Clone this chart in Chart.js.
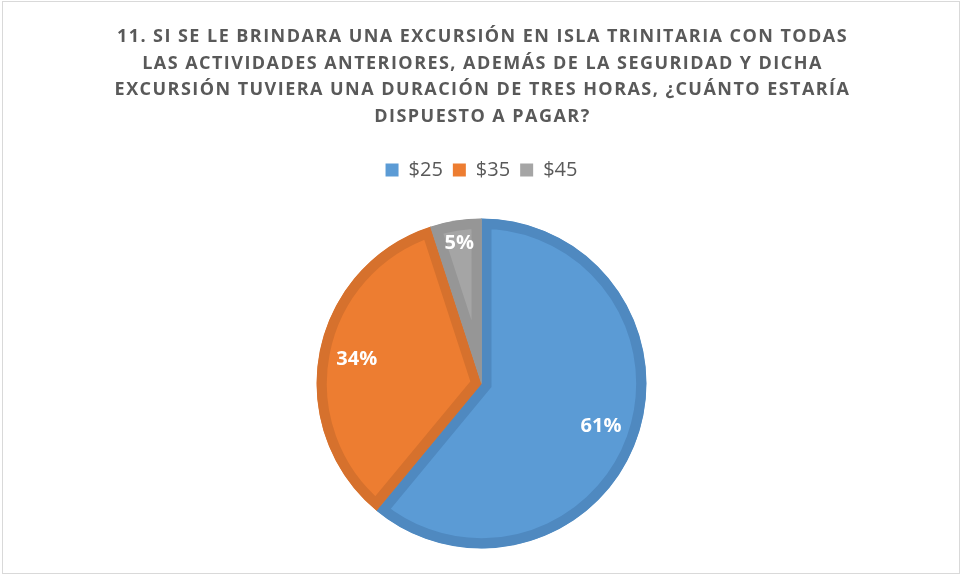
<!DOCTYPE html>
<html>
<head>
<meta charset="utf-8">
<script src="https://cdn.jsdelivr.net/npm/chart.js@4/dist/chart.umd.min.js"></script>
<style>
  html, body { margin: 0; padding: 0; background: #fff; }
  #wrap {
    position: absolute; left: 2px; top: 1px;
    width: 958px; height: 573px;
    border: 1px solid #d9d9d9;
    box-sizing: border-box;
  }
  #myChart { position: absolute; left: -3px; top: -2px; }
</style>
</head>
<body>
<div id="wrap"><canvas id="myChart" width="963" height="577"></canvas></div>
<script>
const titleLines = [
    '11. SI SE LE BRINDARA UNA EXCURSIÓN EN ISLA TRINITARIA CON TODAS',
    'LAS ACTIVIDADES ANTERIORES, ADEMÁS DE LA SEGURIDAD Y DICHA',
    'EXCURSIÓN TUVIERA UNA DURACIÓN DE TRES HORAS, ¿CUÁNTO ESTARÍA',
    'DISPUESTO A PAGAR?'
];
const categories = ['$25', '$35', '$45'];
const percents = [61, 34, 5];
const fillColors = ['#5b9bd5', '#ed7d31', '#a5a5a5'];
const edgeColors = ['#4f89c0', '#d6712d', '#969696'];

// title with letter spacing, drawn by hand
const titleDraw = {
    id: 'titleDraw',
    afterDraw(chart) {
        const ctx = chart.ctx;
        ctx.save();
        ctx.font = 'bold 18px "Open Sans"';
        ctx.fillStyle = '#595959';
        ctx.textAlign = 'center';
        ctx.textBaseline = 'middle';
        ctx.letterSpacing = '1.45px';
        titleLines.forEach(function(line, i) {
            ctx.fillText(line, chart.width / 2 + 1, 37 + i * 26.5);
        });
        ctx.restore();
    }
};

// percent labels inside the slices
const sliceLabels = {
    id: 'sliceLabels',
    afterDatasetsDraw(chart) {
        const ctx = chart.ctx;
        const meta = chart.getDatasetMeta(0);
        ctx.save();
        ctx.font = 'bold 20px "Open Sans"';
        ctx.fillStyle = '#ffffff';
        ctx.textAlign = 'center';
        ctx.textBaseline = 'middle';
        meta.data.forEach(function(arc, i) {
            const p = arc.getProps(['x', 'y', 'startAngle', 'endAngle', 'outerRadius']);
            const mid = (p.startAngle + p.endAngle) / 2;
            const r = p.outerRadius * (percents[i] < 10 ? 0.86 : 0.77);
            ctx.fillText(percents[i] + '%', p.x + Math.cos(mid) * r, p.y + Math.sin(mid) * r);
        });
        ctx.restore();
    }
};

const chartSettings = {
    type: 'pie',
    data: {
        labels: categories,
        datasets: [
            {
                data: percents,
                backgroundColor: fillColors,
                borderColor: edgeColors,
                borderWidth: 10,
                borderAlign: 'inner',
                borderJoinStyle: 'miter',
                radius: 165
            }
        ]
    },
    options: {
        responsive: false,
        animation: false,
        layout: {
            padding: { top: 150, bottom: 0 }
        },
        plugins: {
            legend: {
                position: 'top',
                labels: {
                    color: '#595959',
                    boxWidth: 13,
                    boxHeight: 13,
                    padding: 10,
                    font: { size: 20, family: 'Open Sans' },
                    generateLabels(chart) {
                        return Chart.overrides.pie.plugins.legend.labels.generateLabels(chart).map(function(item) {
                            item.strokeStyle = item.fillStyle;
                            item.lineWidth = 0;
                            return item;
                        });
                    }
                }
            },
            title: { display: false },
            tooltip: { enabled: false }
        }
    },
    plugins: [sliceLabels, titleDraw]
};

window.onload = function() {
    var ctx = document.getElementById('myChart').getContext('2d');
    new Chart(ctx, chartSettings);
};
</script>
</body>
</html>
